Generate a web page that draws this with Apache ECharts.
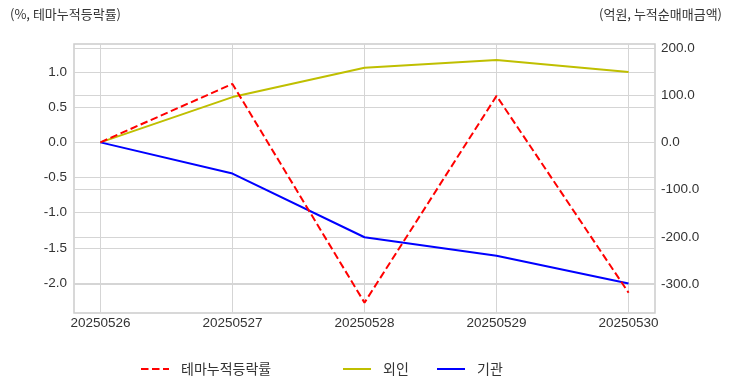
<!DOCTYPE html>
<html>
<head>
<meta charset="utf-8">
<script src="https://cdn.jsdelivr.net/npm/echarts@6/dist/echarts.min.js"></script>
<style>
html,body{margin:0;padding:0;background:#fff;}
#c{width:732px;height:392px;}
</style>
</head>
<body>
<div id="c"></div>
<script>
const categories = ['20250526','20250527','20250528','20250529','20250530'];
const themeReturn = [0.0, 0.83, -2.28, 0.66, -2.14];
const foreign = [0, 96, 158, 174.5, 149];
const institution = [0, -66, -201, -240, -299];
const leftTicks = [-2.0, -1.5, -1.0, -0.5, 0.0, 0.5, 1.0];
const rightTicks = [-300, -200, -100, 0, 100, 200];
const xTicks = [0, 1, 2, 3, 4];
const seriesNames = ['테마누적등락률', '외인', '기관'];

const toPairs = arr => arr.map((v, i) => [i, v]);
const txt = '#333333';
const grid = '#d5d5d5';
const fontNum = 'Liberation Sans, Arial, sans-serif';
const fontKr = 'Noto Sans CJK KR, sans-serif';

const chart = echarts.init(document.getElementById('c'), null, {renderer: 'canvas'});
function legendFor(name, left) {
  return {
    data: [name], left: left, top: 362, padding: 0,
    itemWidth: 28, itemHeight: 14,
    itemStyle: {opacity: 0},
    textStyle: {fontFamily: fontKr, fontSize: 14, color: txt, padding: [0, 0, 0, 7]},
    selectedMode: false
  };
}
chart.setOption({
  animation: false,
  grid: {left: 74, right: 77, top: 44, bottom: 79, show: true, borderColor: '#cccccc', borderWidth: 1.5, backgroundColor: 'transparent'},
  graphic: [
    {type: 'text', left: 10, top: 8, style: {text: '(%, 테마누적등락률)', fontFamily: fontKr, fontSize: 13, fill: txt}},
    {type: 'text', right: 10, top: 8, style: {text: '(억원, 누적순매매금액)', fontFamily: fontKr, fontSize: 13, fill: txt}}
  ],
  legend: [legendFor(seriesNames[0], 140), legendFor(seriesNames[1], 342), legendFor(seriesNames[2], 436)],
  xAxis: {
    type: 'value', min: -0.2, max: 4.2,
    axisLine: {show: false}, axisTick: {show: false, customValues: xTicks},
    axisLabel: {customValues: xTicks, formatter: v => categories[Math.round(v)] || '', margin: 3,
      fontFamily: fontNum, fontSize: 13.5, color: txt},
    splitLine: {show: true, lineStyle: {color: grid, width: 1}}
  },
  yAxis: [
    {
      type: 'value', min: -2.427, max: 1.398, position: 'left',
      axisLine: {show: false}, axisTick: {show: false, customValues: leftTicks},
      axisLabel: {customValues: leftTicks, formatter: v => v.toFixed(1), margin: 7,
        fontFamily: fontNum, fontSize: 13.5, color: txt},
      splitLine: {show: true, lineStyle: {color: grid, width: 1}}
    },
    {
      type: 'value', min: -361.5, max: 208.5, position: 'right',
      axisLine: {show: false}, axisTick: {show: false, customValues: rightTicks},
      axisLabel: {customValues: rightTicks, formatter: v => v.toFixed(1), margin: 6,
        fontFamily: fontNum, fontSize: 13.5, color: txt},
      splitLine: {show: true, lineStyle: {color: grid, width: 1}}
    }
  ],
  series: [
    {name: seriesNames[0], type: 'line', yAxisIndex: 0, data: toPairs(themeReturn), symbol: 'none',
      lineStyle: {color: '#ff0000', width: 2, type: [7.5, 3.5]}, itemStyle: {color: '#ff0000'}, z: 3},
    {name: seriesNames[1], type: 'line', yAxisIndex: 1, data: toPairs(foreign), symbol: 'none',
      lineStyle: {color: '#bfbf00', width: 2}, itemStyle: {color: '#bfbf00'}, z: 2},
    {name: seriesNames[2], type: 'line', yAxisIndex: 1, data: toPairs(institution), symbol: 'none',
      lineStyle: {color: '#0000ff', width: 2}, itemStyle: {color: '#0000ff'}, z: 2}
  ]
});
</script>
</body>
</html>
